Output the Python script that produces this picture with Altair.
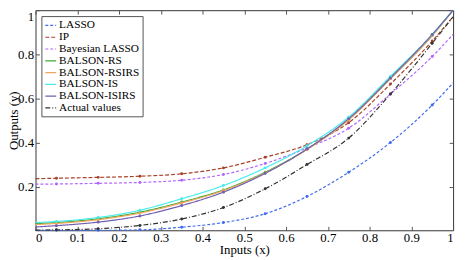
import altair as alt
import pandas as pd

x_vals = [0, 0.05, 0.15, 0.25, 0.35, 0.45, 0.55, 0.65, 0.75, 0.85, 0.95, 1.0]

series_names = ["LASSO", "IP", "Bayesian LASSO", "BALSON-RS", "BALSON-RSIRS",
                "BALSON-IS", "BALSON-ISIRS", "Actual values"]

lasso = [0.002, 0.002, 0.002, 0.004, 0.016, 0.037, 0.077, 0.155, 0.265, 0.40, 0.57, 0.67]
ip = [0.236, 0.238, 0.242, 0.247, 0.258, 0.285, 0.333, 0.39, 0.49, 0.665, 0.86, 0.97]
bayes_lasso = [0.211, 0.212, 0.215, 0.219, 0.229, 0.255, 0.305, 0.375, 0.465, 0.62, 0.79, 0.89]
balson_rs = [0.032, 0.037, 0.054, 0.084, 0.13, 0.185, 0.265, 0.37, 0.505, 0.69, 0.885, 1.0]
balson_rsirs = [0.028, 0.033, 0.05, 0.08, 0.126, 0.182, 0.262, 0.368, 0.503, 0.69, 0.885, 1.0]
balson_is = [0.037, 0.042, 0.06, 0.093, 0.145, 0.205, 0.285, 0.385, 0.515, 0.70, 0.89, 1.0]
balson_isirs = [0.017, 0.023, 0.039, 0.067, 0.114, 0.175, 0.26, 0.37, 0.508, 0.693, 0.89, 1.0]
actual = [0.003, 0.004, 0.009, 0.024, 0.053, 0.105, 0.19, 0.30, 0.42, 0.62, 0.85, 0.97]

x_ticks = [0, 0.1, 0.2, 0.3, 0.4, 0.5, 0.6, 0.7, 0.8, 0.9, 1]
y_ticks = [0.2, 0.4, 0.6, 0.8, 1]

colors = ["#3f6cf0", "#a8412b", "#b066ff", "#3aaa35", "#f5a45c",
          "#48ecec", "#6f5fb3", "#333333"]
dashes = [[3, 2], [4, 2], [3, 2], [1, 0], [1, 0], [1, 0], [1, 0], [5, 2, 1, 2]]

all_series = [lasso, ip, bayes_lasso, balson_rs, balson_rsirs, balson_is, balson_isirs, actual]
rows = []
for k, (name, vals, col) in enumerate(zip(series_names, all_series, colors)):
    for x, y in zip(x_vals, vals):
        rows.append({"series": name, "x": x, "y": y, "k": k, "hex": col,
                     "marker": (0 < x < 1)})
df = pd.DataFrame(rows)

font = "Liberation Serif"
xs = alt.Scale(domain=[0, 1], nice=False, zero=False)
ysc = alt.Scale(domain=[0.002, 1], nice=False, zero=False)

base_axis = dict(grid=False, domain=False, tickSize=4, offset=-4, tickColor="#555",
                 labelFont=font, labelFontSize=13, labelColor="black",
                 titleFont=font, titleFontSize=13, titleFontWeight="normal", titleColor="black")

lines = alt.Chart(df).mark_line(strokeWidth=1.2, interpolate="monotone").encode(
    x=alt.X("x:Q", scale=xs, axis=alt.Axis(orient="bottom", values=x_ticks, format="~g",
                                           labelPadding=1, title="Inputs (x)", titlePadding=0,
                                           **base_axis)),
    y=alt.Y("y:Q", scale=ysc, axis=alt.Axis(orient="left", values=y_ticks, format="~g",
                                            labelPadding=2, labelFlush=True,
                                            title="Outputs (y)", titleX=-19,
                                            **base_axis)),
    color=alt.Color("series:N", sort=series_names,
                    scale=alt.Scale(domain=series_names, range=colors),
                    legend=alt.Legend(title=None)),
    strokeDash=alt.StrokeDash("series:N", sort=series_names,
                              scale=alt.Scale(domain=series_names, range=dashes),
                              legend=alt.Legend(title=None)),
    order=alt.Order("k:Q"),
)

points = alt.Chart(df).transform_filter(alt.datum.marker).mark_point(
    filled=True, size=9, opacity=1).encode(
    x=alt.X("x:Q", scale=xs, axis=alt.Axis(orient="top", values=x_ticks, labels=False,
                                           title=None, **base_axis)),
    y=alt.Y("y:Q", scale=ysc, axis=alt.Axis(orient="right", values=y_ticks, labels=False,
                                            title=None, **base_axis)),
    color=alt.Color("hex:N", scale=None),
)

chart = alt.layer(lines, points).resolve_axis(x="independent", y="independent").properties(
    width=425, height=224,
    autosize=alt.AutoSizeParams(type="none"),
    padding={"left": 28, "top": 0, "right": 5, "bottom": 28},
).configure_view(stroke="#333", strokeWidth=1).configure_legend(
    orient="top-left", offset=6, fillColor="white", strokeColor="#555", strokeWidth=1,
    padding=3, labelFont=font, labelFontSize=11.5, labelColor="black", labelOffset=2,
    symbolType="stroke", symbolSize=121, symbolStrokeWidth=1.2, rowPadding=0,
)

chart.save("out.html", embed_options={"renderer": "svg", "actions": False})
